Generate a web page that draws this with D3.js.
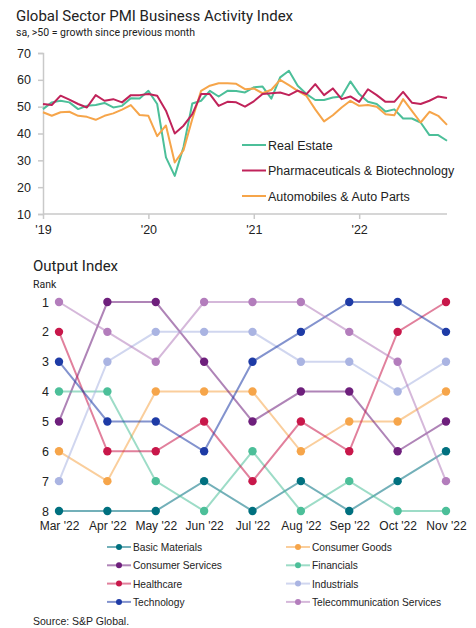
<!DOCTYPE html>
<html>
<head>
<meta charset="utf-8">
<script src="https://cdn.jsdelivr.net/npm/d3@7"></script>
<style>
  body { margin: 0; background: #fff; }
  svg text { font-family: "Liberation Sans", Arial, sans-serif; fill: #222; }
  .title { font-family: Roboto, "Liberation Sans", sans-serif; font-size: 15px; fill: #222; }
  .sub { font-family: Roboto, "Liberation Sans", sans-serif; font-size: 10.5px; fill: #222; }
</style>
</head>
<body>
<svg width="476" height="628"></svg>
<script>
// ---- top chart data: monthly, Jan 2019 - Nov 2022
var yearLabels = ["'19", "'20", "'21", "'22"];
var realEstate = [49.1, 51.6, 52.2, 51.6, 49.1, 50.3, 50.6, 51.4, 49.7, 50.3, 53.1, 53.0,
  55.9, 51.0, 31.1, 24.2, 35.0, 51.2, 52.2, 55.9, 53.8, 55.9, 55.8, 55.3,
  57.2, 57.5, 53.0, 60.9, 63.4, 57.8, 54.7, 52.5, 52.5, 53.4, 53.8, 59.4,
  54.7, 51.8, 51.0, 48.2, 49.0, 45.6, 45.6, 44.1, 39.4, 39.4, 37.3];
var pharma = [51.0, 50.6, 54.1, 52.6, 51.0, 49.7, 54.3, 52.2, 52.8, 51.6, 54.3, 54.3,
  54.7, 54.1, 48.5, 40.0, 42.9, 47.2, 54.7, 54.7, 50.3, 51.8, 51.6, 50.0,
  52.0, 54.7, 55.0, 55.3, 54.3, 56.0, 54.7, 58.4, 54.3, 56.8, 52.8, 53.8,
  51.8, 56.5, 54.3, 51.8, 51.8, 55.5, 51.5, 51.0, 52.2, 53.8, 53.2];
var autos = [47.9, 46.6, 47.9, 48.1, 46.6, 46.2, 45.1, 46.6, 47.5, 48.9, 50.6, 46.9,
  46.6, 39.0, 43.0, 29.2, 33.8, 45.4, 55.9, 57.8, 58.7, 58.7, 58.5, 56.5,
  56.8, 55.0, 56.3, 60.0, 58.0, 55.9, 54.0, 49.0, 44.5, 46.8, 49.7, 52.2,
  50.3, 50.6, 50.0, 47.2, 46.8, 52.8, 48.4, 44.1, 48.1, 46.6, 43.2];

// ---- bottom chart data: output index ranks, Mar - Nov 2022
var months = ["Mar '22", "Apr '22", "May '22", "Jun '22", "Jul '22", "Aug '22", "Sep '22", "Oct '22", "Nov '22"];
var sectors = ["Basic Materials", "Consumer Goods", "Consumer Services", "Financials",
  "Healthcare", "Industrials", "Technology", "Telecommunication Services"];
var ranks = [
  [8, 8, 8, 7, 8, 7, 8, 7, 6],
  [6, 7, 4, 4, 4, 6, 5, 5, 4],
  [5, 1, 1, 3, 5, 4, 4, 6, 5],
  [4, 4, 7, 8, 6, 8, 7, 8, 8],
  [2, 6, 6, 5, 7, 5, 6, 2, 1],
  [7, 3, 2, 2, 2, 3, 3, 4, 3],
  [3, 5, 5, 6, 3, 2, 1, 1, 2],
  [1, 2, 3, 1, 1, 1, 2, 3, 7]
];
var sectorColors = ["#00707f", "#f6a54a", "#6e1f7c", "#4cbf99", "#c8174a", "#aab4e2", "#1e3ba6", "#b37dbc"];

var svg = d3.select("svg");

// ================= top chart =================
svg.append("text").attr("class", "title").attr("x", 16).attr("y", 21)
  .text("Global Sector PMI Business Activity Index");
svg.append("text").attr("class", "sub").attr("x", 16).attr("y", 36)
  .text("sa, >50 = growth since previous month");

var x1 = d3.scaleLinear().domain([0, 46]).range([43, 447]);
var y1 = d3.scaleLinear().domain([10, 70]).range([214, 53]);

var topG = svg.append("g");

var yAx = topG.append("g").attr("transform", "translate(43,0)")
  .call(d3.axisLeft(y1).tickValues([10, 20, 30, 40, 50, 60, 70]).tickSize(5).tickPadding(7));
var xAx = topG.append("g").attr("transform", "translate(0,214)")
  .call(d3.axisBottom(x1).tickValues([0, 12, 24, 36]).tickSize(5).tickPadding(6)
    .tickFormat(function(d, i) { return yearLabels[i]; }));
xAx.select(".domain").attr("d", "M43,0H447");
[yAx, xAx].forEach(function(a) {
  a.selectAll("path, line").attr("stroke", "#c9c9c9").attr("stroke-width", 1.5);
  a.selectAll("text").attr("font-size", 12.5).attr("fill", "#222");
});

var line1 = d3.line().x(function(d, i) { return x1(i); }).y(function(d) { return y1(d); });
var topSeries = [
  { name: "Real Estate", values: realEstate, color: "#4cbf99" },
  { name: "Pharmaceuticals & Biotechnology", values: pharma, color: "#c0235a" },
  { name: "Automobiles & Auto Parts", values: autos, color: "#f6a54a" }
];
[topSeries[0], topSeries[2], topSeries[1]].forEach(function(s) {
  topG.append("path").datum(s.values)
    .attr("fill", "none").attr("stroke", s.color).attr("stroke-width", 2)
    .attr("stroke-linejoin", "round").attr("d", line1);
});

var leg1 = topG.append("g");
topSeries.forEach(function(s, i) {
  var yy = 145 + i * 25.5;
  leg1.append("line").attr("x1", 242).attr("x2", 266).attr("y1", yy).attr("y2", yy)
    .attr("stroke", s.color).attr("stroke-width", 2);
  leg1.append("text").attr("x", 268).attr("y", yy + 4.5).attr("font-size", 12.5).text(s.name);
});

// ================= bottom chart =================
svg.append("text").attr("class", "title").attr("x", 33).attr("y", 271).text("Output Index");
svg.append("text").attr("class", "sub").attr("x", 33).attr("y", 288).text("Rank");

var x2 = d3.scalePoint().domain(months).range([59, 446]);
var y2 = d3.scaleLinear().domain([1, 8]).range([302, 511]);

var bot = svg.append("g");
var rAx = bot.append("g").attr("transform", "translate(49,0)")
  .call(d3.axisLeft(y2).tickValues(d3.range(1, 9)).tickFormat(d3.format("d")).tickSize(0).tickPadding(0));
rAx.select(".domain").remove();
rAx.selectAll("text").attr("font-size", 12.5).attr("fill", "#222");

var mAx = bot.append("g").attr("transform", "translate(0,515)")
  .call(d3.axisBottom(x2).tickSize(0).tickPadding(6));
mAx.select(".domain").remove();
mAx.selectAll("text").attr("font-size", 12).attr("fill", "#222");

var line2 = d3.line().x(function(d, i) { return x2(months[i]); }).y(function(d) { return y2(d); });

sectors.forEach(function(name, k) {
  bot.append("path").datum(ranks[k])
    .attr("fill", "none").attr("stroke", sectorColors[k]).attr("stroke-opacity", 0.55)
    .attr("stroke-width", 2).attr("d", line2);
});
sectors.forEach(function(name, k) {
  bot.selectAll(null).data(ranks[k]).enter().append("circle")
    .attr("cx", function(d, i) { return x2(months[i]); })
    .attr("cy", function(d) { return y2(d); })
    .attr("r", 4.2)
    .attr("fill", sectorColors[k]);
});

// legend
var leg2 = svg.append("g");
sectors.forEach(function(name, k) {
  var col = k % 2, row = Math.floor(k / 2);
  var lx = col === 0 ? 107 : 286;
  var ly = 547 + row * 18.3;
  leg2.append("line").attr("x1", lx).attr("x2", lx + 24).attr("y1", ly).attr("y2", ly)
    .attr("stroke", sectorColors[k]).attr("stroke-opacity", 0.55).attr("stroke-width", 2);
  leg2.append("circle").attr("cx", lx + 12).attr("cy", ly).attr("r", 3).attr("fill", sectorColors[k]);
  leg2.append("text").attr("x", lx + 26).attr("y", ly + 4).attr("font-size", 10.2).text(name);
});

svg.append("text").attr("x", 33).attr("y", 625).attr("font-size", 10.5).text("Source: S&P Global.");
</script>
</body>
</html>
